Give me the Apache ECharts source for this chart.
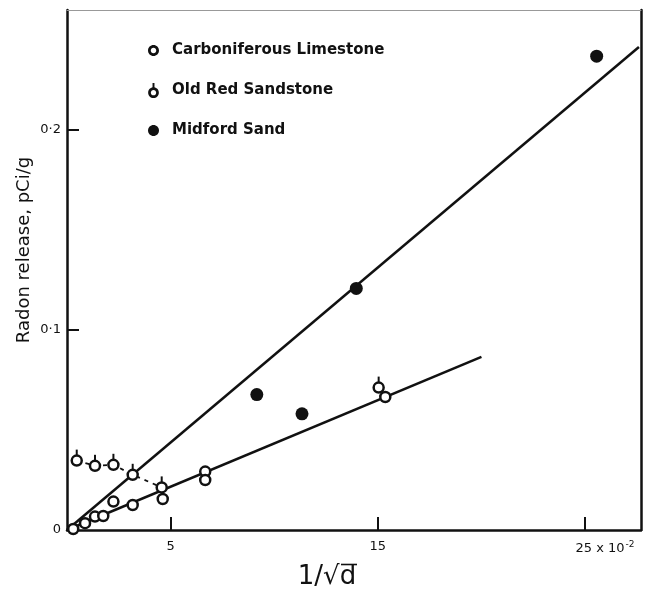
<!DOCTYPE html>
<html>
<head>
<meta charset="utf-8">
<script src="https://cdn.jsdelivr.net/npm/echarts@6/dist/echarts.min.js"></script>
<style>
html, body { margin: 0; padding: 0; background: #fff; }
#chart { width: 646px; height: 592px; }
</style>
</head>
<body>
<div id="chart"></div>
<script>
// Radon release against 1/sqrt(d) for three rock types
const limestoneX = [0.3, 0.87, 1.35, 1.75, 2.24, 3.17, 4.62, 6.67, 6.67, 15.36];
const limestoneY = [0.0005, 0.0034, 0.0067, 0.007, 0.0142, 0.0125, 0.0155, 0.0292, 0.025, 0.0665];
const sandstoneX = [0.47, 1.35, 2.24, 3.17, 4.57, 15.04];
const sandstoneY = [0.0347, 0.0321, 0.0326, 0.0276, 0.0213, 0.0712];
const midfordX = [9.16, 11.34, 13.96, 25.56];
const midfordY = [0.0677, 0.0581, 0.1208, 0.2369];

// fitted straight lines through the origin
const upperFitX = [0, 27.6];
const upperFitY = [0, 0.2415];
const lowerFitX = [0, 20.0];
const lowerFitY = [0, 0.0866];

// early sandstone points joined by a dashed trend
const sandstoneTrendCount = 5;

const xTickValues = [5, 15, 25];
const xTickLabels = ['5', '15', '25'];
const yTickValues = [0, 0.1, 0.2];
const yTickLabels = ['0', '0·1', '0·2'];

const seriesNames = ['Carboniferous Limestone', 'Old Red Sandstone', 'Midford Sand'];

const pairs = (xs, ys) => xs.map((x, i) => [x, ys[i]]);

const FONT = 'DejaVu Sans';
const INK = '#111';

// key symbols drawn as filled outlines so that all three scale alike
const ringPath = 'M0,5 C0,2.24 2.24,0 5,0 C7.76,0 10,2.24 10,5 C10,7.76 7.76,10 5,10 C2.24,10 0,7.76 0,5 Z ' +
  'M2.5,5 C2.5,6.38 3.62,7.5 5,7.5 C6.38,7.5 7.5,6.38 7.5,5 C7.5,3.62 6.38,2.5 5,2.5 C3.62,2.5 2.5,3.62 2.5,5 Z';
const limestoneIcon = 'path://' + ringPath;
const sandstoneIcon = 'path://M4.1,0 L5.9,0 L5.9,4.6 L4.1,4.6 Z ' +
  'M0,9 C0,6.24 2.24,4 5,4 C7.76,4 10,6.24 10,9 C10,11.76 7.76,14 5,14 C2.24,14 0,11.76 0,9 Z ' +
  'M2.5,9 C2.5,10.38 3.62,11.5 5,11.5 C6.38,11.5 7.5,10.38 7.5,9 C7.5,7.62 6.38,6.5 5,6.5 C3.62,6.5 2.5,7.62 2.5,9 Z';
const midfordIcon = 'path://M0,5 C0,2.24 2.24,0 5,0 C7.76,0 10,2.24 10,5 C10,7.76 7.76,10 5,10 C2.24,10 0,7.76 0,5 Z';

const chart = echarts.init(document.getElementById('chart'), null, { renderer: 'canvas' });

const X_MAX = 27.7;
const Y_MAX = 0.26;

const option = {
  animation: false,
  backgroundColor: '#fff',
  grid: { left: 67, right: 5, top: 10, bottom: 62 },
  legend: {
    orient: 'vertical',
    left: 143,
    top: 38,
    itemWidth: 11,
    itemHeight: 15,
    itemGap: 25,
    selectedMode: false,
    textStyle: { fontFamily: FONT, fontSize: 15, fontWeight: 'bold', color: INK, padding: [0, 0, 0, 8] },
    data: [
      { name: seriesNames[0], icon: limestoneIcon, itemStyle: { color: INK, borderWidth: 0 } },
      { name: seriesNames[1], icon: sandstoneIcon, itemStyle: { color: INK, borderWidth: 0 } },
      { name: seriesNames[2], icon: midfordIcon, itemStyle: { color: INK, borderWidth: 0 } }
    ]
  },
  xAxis: [
    {
      type: 'value',
      min: 0,
      max: X_MAX,
      splitLine: { show: false },
      axisLine: { show: true, lineStyle: { color: INK, width: 2.5 } },
      axisTick: { show: true, inside: true, length: 13, lineStyle: { color: INK, width: 2 }, customValues: xTickValues },
      axisLabel: {
        customValues: xTickValues,
        margin: 10,
        fontFamily: FONT,
        fontSize: 13,
        color: INK,
        formatter: function (v) {
          const i = xTickValues.indexOf(v);
          const t = i >= 0 ? xTickLabels[i] : '';
          if (i === xTickValues.length - 1) {
            return '{pad|}{n|' + t + ' x 10}{s|-2}';
          }
          return t;
        },
        rich: {
          pad: { width: 40 },
          n: { fontFamily: FONT, fontSize: 13, color: INK },
          s: { fontFamily: FONT, fontSize: 9, color: INK, verticalAlign: 'bottom', padding: [0, 0, 8, 1] }
        }
      }
    },
    {
      type: 'value',
      position: 'top',
      min: 0,
      max: X_MAX,
      splitLine: { show: false },
      axisLine: { show: true, onZero: false, lineStyle: { color: '#999', width: 1 } },
      axisTick: { show: false },
      axisLabel: { show: false }
    }
  ],
  yAxis: [
    {
      type: 'value',
      min: 0,
      max: Y_MAX,
      splitLine: { show: false },
      axisLine: { show: true, lineStyle: { color: INK, width: 2.5 } },
      axisTick: { show: true, inside: true, length: 12, lineStyle: { color: INK, width: 2 }, customValues: [0.1, 0.2] },
      axisLabel: {
        customValues: yTickValues,
        margin: 6,
        fontFamily: FONT,
        fontSize: 13,
        color: INK,
        formatter: function (v) {
          let best = 0;
          yTickValues.forEach((t, i) => { if (Math.abs(t - v) < Math.abs(yTickValues[best] - v)) best = i; });
          return yTickLabels[best];
        }
      }
    },
    {
      type: 'value',
      position: 'right',
      min: 0,
      max: Y_MAX,
      splitLine: { show: false },
      axisLine: { show: true, onZero: false, lineStyle: { color: INK, width: 2.5 } },
      axisTick: { show: false },
      axisLabel: { show: false }
    }
  ],
  graphic: [
    {
      type: 'text',
      x: 24,
      y: 250,
      rotation: Math.PI / 2,
      style: {
        text: 'Radon release, pCi/g',
        font: '18px "DejaVu Sans"',
        fill: INK,
        align: 'center',
        verticalAlign: 'middle'
      }
    },
    {
      type: 'group',
      x: 327,
      y: 577,
      children: [
        {
          type: 'text',
          style: {
            text: '1/√d',
            font: '26px "DejaVu Sans"',
            fill: INK,
            align: 'center',
            verticalAlign: 'middle'
          }
        },
        {
          // vinculum of the root sign carried over the d
          type: 'line',
          shape: { x1: 14, y1: -12.5, x2: 30, y2: -12.5 },
          style: { stroke: INK, lineWidth: 1.6 }
        }
      ]
    }
  ],
  series: [
    {
      name: 'upper fit',
      type: 'line',
      data: pairs(upperFitX, upperFitY),
      showSymbol: false,
      lineStyle: { color: INK, width: 2.5 },
      z: 1,
      silent: true
    },
    {
      name: 'lower fit',
      type: 'line',
      data: pairs(lowerFitX, lowerFitY),
      showSymbol: false,
      lineStyle: { color: INK, width: 2.5 },
      z: 1,
      silent: true
    },
    {
      name: 'sandstone trend',
      type: 'line',
      data: pairs(sandstoneX, sandstoneY).slice(0, sandstoneTrendCount),
      showSymbol: false,
      lineStyle: { color: INK, width: 1.8, type: [4, 5] },
      z: 1,
      silent: true
    },
    {
      name: seriesNames[0],
      type: 'scatter',
      data: pairs(limestoneX, limestoneY),
      symbol: 'circle',
      symbolSize: 10,
      itemStyle: { color: '#fff', borderColor: INK, borderWidth: 2.5, opacity: 1 },
      z: 3
    },
    {
      name: 'sandstone stem',
      type: 'scatter',
      data: pairs(sandstoneX, sandstoneY),
      symbol: 'rect',
      symbolSize: [2, 6],
      symbolOffset: [0, -8],
      itemStyle: { color: INK, opacity: 1 },
      z: 3,
      silent: true
    },
    {
      name: seriesNames[1],
      type: 'scatter',
      data: pairs(sandstoneX, sandstoneY),
      symbol: 'circle',
      symbolSize: 10,
      itemStyle: { color: '#fff', borderColor: INK, borderWidth: 2.5, opacity: 1 },
      z: 4
    },
    {
      name: seriesNames[2],
      type: 'scatter',
      data: pairs(midfordX, midfordY),
      symbol: 'circle',
      symbolSize: 13,
      itemStyle: { color: INK, opacity: 1 },
      z: 4
    }
  ]
};

chart.setOption(option);
</script>
</body>
</html>
